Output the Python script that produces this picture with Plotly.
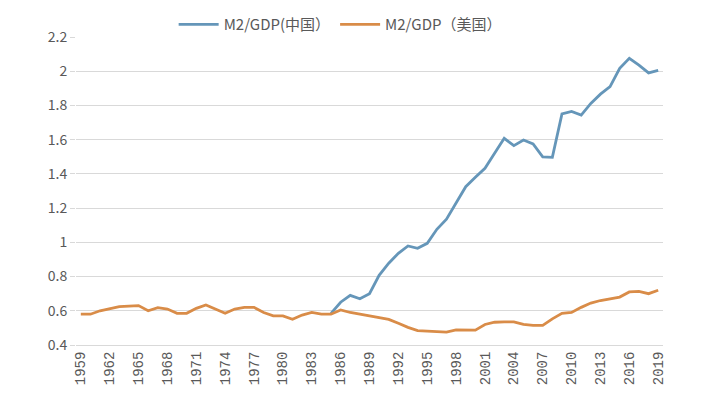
import plotly.graph_objects as go

years = list(range(1959, 2020))

# M2/GDP US, 1959-2019
us = [0.58, 0.58, 0.60, 0.61, 0.624, 0.627, 0.63, 0.60, 0.618, 0.61,
      0.585, 0.585, 0.614, 0.634, 0.61, 0.585, 0.61, 0.62, 0.62, 0.59,
      0.57, 0.57, 0.55, 0.575, 0.59, 0.58, 0.58, 0.605, 0.59, 0.58,
      0.566, 0.556, 0.55, 0.527, 0.503, 0.484, 0.482, 0.478, 0.475, 0.488,
      0.488, 0.487, 0.52, 0.533, 0.535, 0.535, 0.52, 0.515, 0.515, 0.553,
      0.585, 0.59, 0.62, 0.645, 0.66, 0.67, 0.68, 0.71, 0.713, 0.70,
      0.72]

# M2/GDP China, 1985-2019
cn_years = list(range(1985, 2020))
cn = [0.585, 0.65, 0.69, 0.67, 0.70, 0.807, 0.878, 0.936, 0.979, 0.965,
      0.994, 1.076, 1.135, 1.228, 1.325, 1.38, 1.433, 1.52, 1.608, 1.565,
      1.598, 1.575, 1.50, 1.497, 1.75, 1.765, 1.744, 1.812, 1.866, 1.91,
      2.017, 2.075, 2.036, 1.99, 2.005]

xticks = list(range(1959, 2020, 3))

fig = go.Figure()
fig.add_trace(go.Scatter(x=cn_years, y=cn, mode="lines", name="M2/GDP(中国）",
                         line=dict(color="#6596B9", width=2.8)))
fig.add_trace(go.Scatter(x=years, y=us, mode="lines", name="M2/GDP（美国）",
                         line=dict(color="#D98C48", width=2.8)))

fig.update_layout(
    width=715, height=409,
    margin=dict(l=68, r=60, t=29, b=72, autoexpand=False),
    paper_bgcolor="white", plot_bgcolor="white",
    font=dict(family="Noto Sans CJK SC", color="#595959", size=14),
    showlegend=True,
    legend=dict(orientation="h", x=0.45, xanchor="center", y=1.04, yanchor="middle",
                font=dict(size=15, color="#595959"), itemwidth=40,
                tracegroupgap=0, bgcolor="rgba(0,0,0,0)"),
    xaxis=dict(range=[1958.5, 2019.5], tickmode="array", tickvals=xticks,
               ticktext=[str(y) for y in xticks], tickangle=-90,
               tickfont=dict(family="Liberation Mono", size=14, color="#595959"),
               showgrid=False, zeroline=False, showline=True,
               linecolor="#D9D9D9", linewidth=1, ticks=""),
    yaxis=dict(range=[0.4, 2.2], dtick=0.2, tick0=0.4, showgrid=True,
               gridcolor="#D9D9D9", gridwidth=1, zeroline=False,
               ticks="outside", ticklen=5, tickcolor="#D9D9D9",
               tickfont=dict(size=14, color="#595959")),
)

fig.write_html("out.html")
